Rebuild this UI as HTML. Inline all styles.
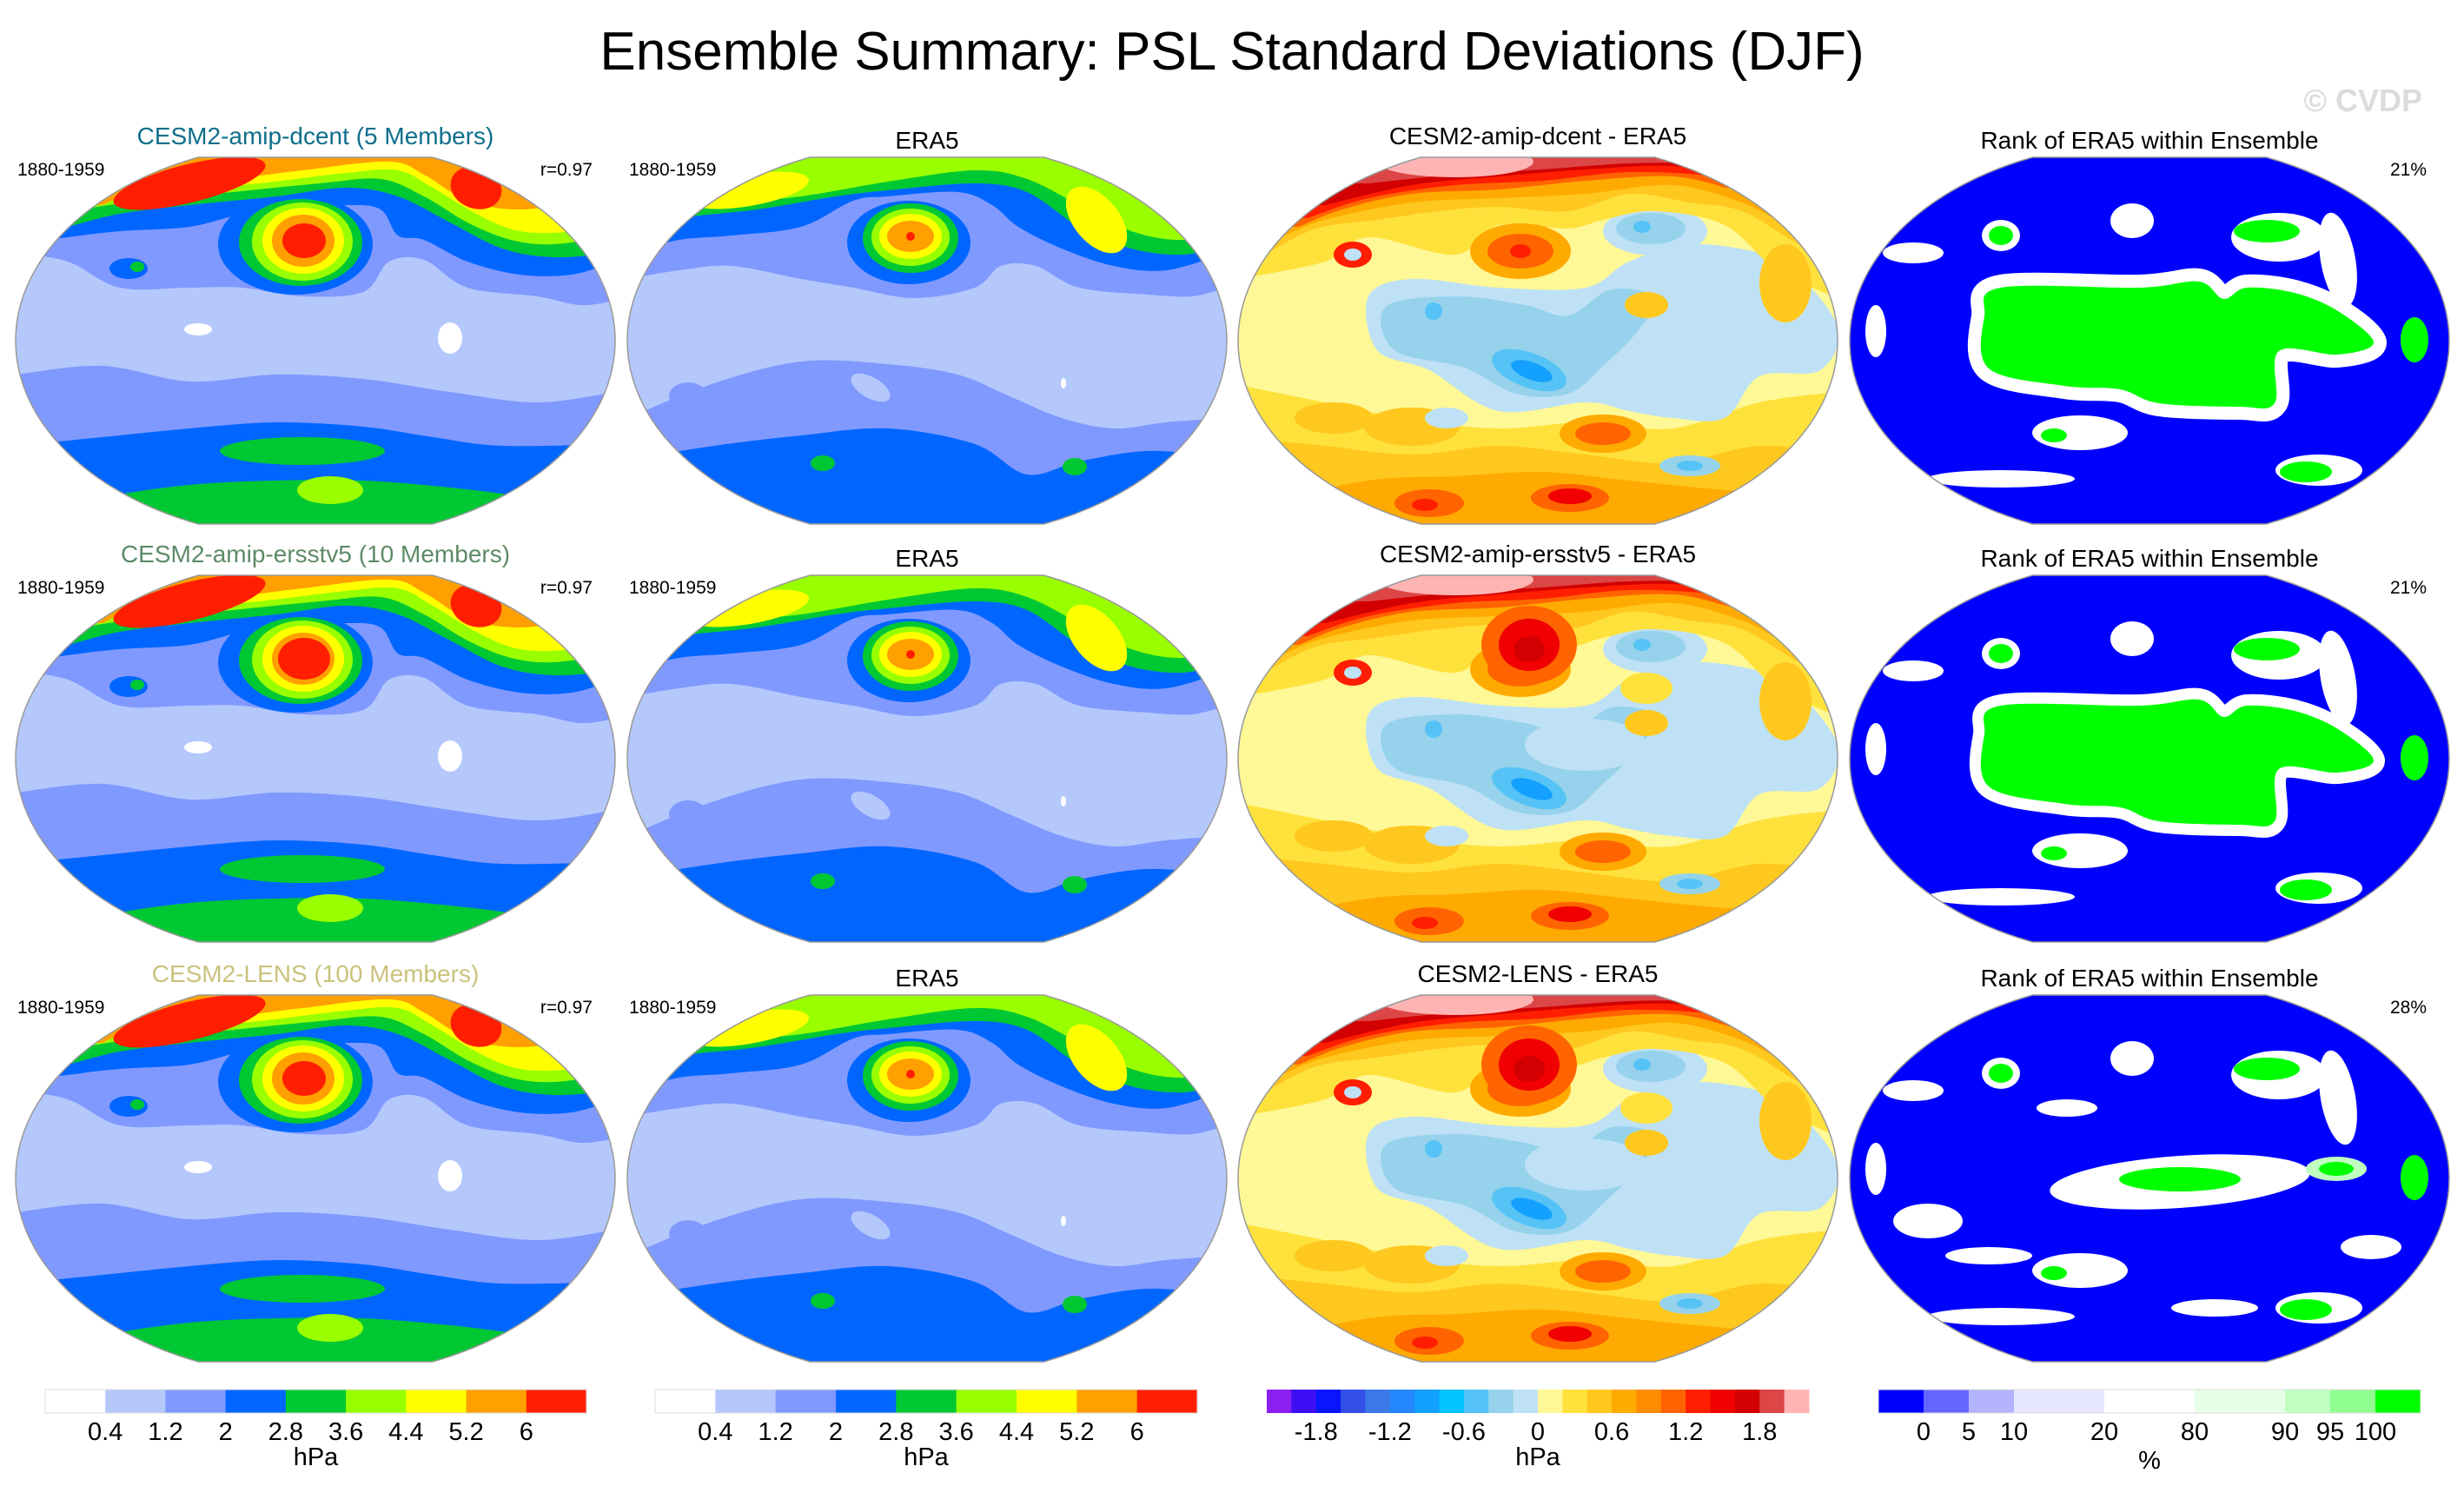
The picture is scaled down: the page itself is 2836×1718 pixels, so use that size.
<!DOCTYPE html>
<html><head><meta charset="utf-8"><title>Ensemble Summary: PSL Standard Deviations (DJF)</title>
<style>
html,body{margin:0;padding:0;background:#fff;}
svg{display:block;font-family:"Liberation Sans",Arial,sans-serif;}
</style></head>
<body>
<svg id="fig" width="2836" height="1718" viewBox="0 0 2836 1718" xmlns="http://www.w3.org/2000/svg">
<rect x="0" y="0" width="2836" height="1718" fill="#fff"/>
<text x="1418" y="80" font-size="62" text-anchor="middle" fill="#000">Ensemble Summary: PSL Standard Deviations (DJF)</text>
<text x="2788" y="128" font-size="36" font-weight="bold" text-anchor="end" fill="#dcdcdc">© CVDP</text>
<g id="maps"></g>
<g id="bars"></g>
</svg>
<script>
const stdColors = ['#ffffff','#b4c8fc','#8099ff','#0066ff','#00c832','#99ff00','#ffff00','#ffa000','#ff1e00'];
const stdLabels = ['0.4','1.2','2','2.8','3.6','4.4','5.2','6'];
const diffColors = ['#8a1ff0','#3c0ff5','#0a14ff','#3250e8','#3c78e6','#2387ff','#14a0ff','#00c3ff','#55c3f5','#96d2eb','#bee1f5','#fff896','#ffe13c','#ffc81e','#ffaa00','#ff8c00','#ff6400','#ff1e00','#f00000','#d20000','#dc4646','#ffb4b4'];
const diffLabels = ['-1.8','-1.2','-0.6','0','0.6','1.2','1.8'];
const diffLabelSlots = [2,5,8,11,14,17,20];
const rankColors = ['#0000ff','#6666ff','#b3b3ff','#e6e6ff','#ffffff','#e6ffe6','#c0ffc0','#90ff90','#00ff00'];
const rankBoxUnits = [1,1,1,2,2,2,1,1,1];
const rankLabels = ['0','5','10','20','80','90','95','100'];
const rowTitles = ['CESM2-amip-dcent (5 Members)','CESM2-amip-ersstv5 (10 Members)','CESM2-LENS (100 Members)'];
const rowTitleColors = ['#0f6e8c','#5e8a66','#cbc27c'];
const diffTitles = ['CESM2-amip-dcent - ERA5','CESM2-amip-ersstv5 - ERA5','CESM2-LENS - ERA5'];
const rankPercents = ['21%','21%','28%'];
const corrValues = ['r=0.97','r=0.97','r=0.97'];

const NS='http://www.w3.org/2000/svg';
const W=690,H=422;
const colX=[18,722,1425,2129], rowY=[181,662,1145];

function mk(tag, parent, attrs, name){
  const el=document.createElementNS(NS,tag);
  for(const k in attrs) el.setAttribute(k,attrs[k]);
  
  
  parent.appendChild(el);
  return el;
}
function curve(p){
  let s='';
  for(let i=0;i<p.length-1;i++){
    const a=p[i-1]||p[i], b=p[i], c=p[i+1], d=p[i+2]||c;
    s+=` C ${b[0]+(c[0]-a[0])/6} ${b[1]+(c[1]-a[1])/6} ${c[0]-(d[0]-b[0])/6} ${c[1]-(d[1]-b[1])/6} ${c[0]} ${c[1]}`;
  }
  return s;
}
function topBand(g,p,color){
  const r=p.slice().reverse();
  const d=`M -20 -20 L ${W+20} -20 L ${W+20} ${r[0][1]} L ${r[0][0]} ${r[0][1]}`+curve(r)+` L -20 ${p[0][1]} Z`;
  return mk('path',g,{d:d,fill:color},'contour-band');
}
function botBand(g,p,color){
  const d=`M -20 ${H+20} L -20 ${p[0][1]} L ${p[0][0]} ${p[0][1]}`+curve(p)+` L ${W+20} ${p[p.length-1][1]} L ${W+20} ${H+20} Z`;
  return mk('path',g,{d:d,fill:color},'contour-band');
}
function poly(g,p,color,extra){
  const c=[p[p.length-1]].concat(p,[p[0],p[1]]);
  let d=`M ${p[0][0]} ${p[0][1]}`;
  for(let i=1;i<c.length-2;i++){
    const a=c[i-1],b=c[i],e=c[i+1],f=c[i+2];
    d+=` C ${b[0]+(e[0]-a[0])/6} ${b[1]+(e[1]-a[1])/6} ${e[0]-(f[0]-b[0])/6} ${e[1]-(f[1]-b[1])/6} ${e[0]} ${e[1]}`;
  }
  const at={d:d+' Z',fill:color};
  if(extra) Object.assign(at,extra);
  return mk('path',g,at,'contour-region');
}
function blob(g,cx,cy,rx,ry,color,rot){
  return mk('ellipse',g,{cx:cx,cy:cy,rx:rx,ry:ry,fill:color,transform:`rotate(${rot||0} ${cx} ${cy})`},'contour-blob');
}
function shapeD(){
  const rx=W/2, ry=1.086*H/2;
  return `M ${0.305*W} 0 L ${0.695*W} 0 A ${rx} ${ry} 0 0 1 ${0.695*W} ${H} L ${0.305*W} ${H} A ${rx} ${ry} 0 0 1 ${0.305*W} 0 Z`;
}
const S=stdColors, D=diffColors;

function drawModel(g,row){
  mk('rect',g,{x:-20,y:-20,width:W+40,height:H+40,fill:S[1]},'map-fill');
  botBand(g,[[0,250],[100,240],[200,258],[300,250],[400,255],[500,270],[600,282],[690,270]],S[2]);
  botBand(g,[[0,332],[100,322],[200,312],[300,305],[400,310],[480,322],[560,332],[690,330]],S[3]);
  botBand(g,[[0,420],[100,392],[200,377],[300,372],[400,372],[500,380],[600,392],[690,402]],S[4]);
  blob(g,330,338,95,16,S[4]);
  blob(g,362,383,38,16,S[5]);
  blob(g,210,198,16,7,S[0]);
  blob(g,500,208,14,18,S[0]);
  topBand(g,[[0,110],[60,120],[120,150],[200,150],[260,150],[330,160],[400,155],[430,120],[470,118],[520,150],[600,160],[650,170],[690,165]],S[2]);
  topBand(g,[[0,100],[60,92],[120,85],[200,80],[260,65],[300,60],[380,55],[420,60],[440,90],[470,95],[520,120],[580,135],[640,135],[690,120]],S[3]);
  blob(g,322,100,89,58,S[3]);
  topBand(g,[[0,95],[60,80],[120,65],[200,55],[300,45],[380,35],[440,45],[500,75],[560,105],[620,115],[690,110]],S[4]);
  blob(g,328,98,71,50,S[4]);
  topBand(g,[[30,82],[80,60],[150,50],[250,40],[350,30],[420,25],[470,45],[520,75],[570,95],[620,100],[690,90]],S[5]);
  blob(g,330,97,58,45,S[5]);
  topBand(g,[[60,70],[100,50],[180,40],[280,30],[380,18],[440,15],[480,35],[530,65],[580,85],[640,85],[690,70]],S[6]);
  blob(g,331,96,47,38,S[6]);
  topBand(g,[[100,55],[150,35],[250,25],[330,15],[430,5],[470,20],[520,50],[580,60],[650,50],[690,40]],S[7]);
  blob(g,331,96,36,30,S[7]);
  blob(g,200,30,90,22,S[8],-14);
  blob(g,530,35,30,24,S[8],20);
  blob(g,332,96,row===1?30:25,row===1?24:20,S[8]);
  blob(g,130,128,22,12,S[3]);
  blob(g,140,126,8,6,S[4]);
}
function drawEra(g){
  mk('rect',g,{x:-20,y:-20,width:W+40,height:H+40,fill:S[1]},'map-fill');
  botBand(g,[[0,300],[100,260],[200,235],[300,238],[380,250],[440,275],[500,300],[560,312],[620,305],[690,300]],S[2]);
  blob(g,280,265,25,12,S[1],30);
  blob(g,70,275,22,16,S[2]);
  botBand(g,[[0,348],[100,332],[200,320],[300,312],[400,330],[460,365],[520,350],[600,338],[690,345]],S[3]);
  blob(g,225,352,14,9,S[4]);
  blob(g,515,356,14,10,S[4]);
  blob(g,502,260,3,6,S[0]);
  topBand(g,[[0,140],[60,130],[120,125],[200,140],[260,150],[330,162],[400,150],[430,125],[470,125],[520,150],[600,158],[650,160],[690,150]],S[2]);
  topBand(g,[[0,110],[60,95],[120,90],[200,80],[260,50],[300,45],[380,40],[420,55],[450,80],[500,105],[560,125],[620,130],[690,110]],S[3]);
  blob(g,324,98,71,48,S[3]);
  topBand(g,[[0,85],[60,70],[150,60],[240,45],[300,38],[400,30],[460,40],[520,80],[580,105],[640,112],[690,100]],S[4]);
  blob(g,326,93,55,40,S[4]);
  topBand(g,[[40,75],[100,55],[200,45],[300,28],[400,15],[460,25],[520,55],[580,85],[640,95],[690,80]],S[5]);
  blob(g,326,92,45,33,S[5]);
  blob(g,140,38,70,18,S[6],-10);
  blob(g,540,72,26,45,S[6],-40);
  blob(g,326,91,36,26,S[6]);
  blob(g,326,91,27,18,S[7]);
  blob(g,326,91,5,5,S[8]);
}
function drawDiff(g,row){
  mk('rect',g,{x:-20,y:-20,width:W+40,height:H+40,fill:D[11]},'map-fill');
  botBand(g,[[0,262],[100,282],[200,302],[300,312],[400,305],[500,312],[600,282],[690,270]],D[12]);
  botBand(g,[[0,322],[100,332],[200,342],[300,332],[400,342],[500,352],[600,332],[690,342]],D[13]);
  botBand(g,[[0,402],[150,372],[250,367],[350,362],[450,372],[550,382],[690,392]],D[14]);
  blob(g,200,310,55,22,D[13]);
  blob(g,420,318,50,22,D[14]);
  blob(g,420,318,32,13,D[16]);
  blob(g,110,300,45,18,D[13]);
  blob(g,220,398,40,16,D[16]);
  blob(g,215,400,15,7,D[17]);
  blob(g,382,392,45,16,D[16]);
  blob(g,382,390,25,9,D[18]);
  blob(g,240,300,25,12,D[10]);
  blob(g,520,355,35,12,D[9]);
  blob(g,520,355,15,6,D[8]);
  poly(g,[[150,160],[200,140],[300,150],[400,150],[450,120],[520,100],[600,110],[640,130],[690,195],[670,245],[600,252],[560,300],[500,300],[450,292],[400,282],[300,292],[220,245],[160,222]],D[10]);
  poly(g,[[170,172],[250,160],[330,170],[380,182],[430,152],[480,162],[460,200],[420,240],[380,272],[320,272],[260,242],[180,222]],D[9]);
  blob(g,480,85,60,28,D[10]);
  blob(g,475,82,40,18,D[9]);
  blob(g,465,80,10,7,D[8]);
  blob(g,335,245,45,20,D[8],20);
  blob(g,338,246,25,10,D[6],20);
  blob(g,225,177,10,10,D[8]);
  if(row>0){ blob(g,400,195,70,30,D[10]); blob(g,470,130,30,18,D[12]); }
  topBand(g,[[0,140],[100,120],[150,92],[250,112],[300,78],[380,82],[420,72],[480,62],[560,78],[620,130],[690,162]],D[12]);
  topBand(g,[[30,112],[90,82],[160,72],[230,62],[300,57],[380,62],[450,42],[520,52],[580,62],[640,97],[690,122]],D[13]);
  topBand(g,[[50,92],[100,72],[200,52],[300,47],[400,42],[500,32],[580,52],[640,82],[690,92]],D[14]);
  topBand(g,[[70,80],[120,60],[200,42],[300,37],[400,27],[500,22],[570,37],[630,52],[690,62]],D[16]);
  topBand(g,[[80,70],[150,47],[250,32],[350,27],[450,17],[550,22],[620,37],[690,42]],D[17]);
  topBand(g,[[100,55],[200,32],[300,22],[400,14],[500,10],[600,22],[690,27]],D[19]);
  topBand(g,[[150,30],[250,20],[350,14],[450,7],[550,7],[690,12]],D[20]);
  blob(g,250,5,90,18,D[21]);
  blob(g,325,108,58,32,D[14]);
  blob(g,325,108,38,20,D[16]);
  blob(g,325,108,12,8,D[17]);
  blob(g,630,145,30,45,D[13]);
  blob(g,470,170,25,15,D[13]);
  if(row>0){
    blob(g,335,80,55,45,D[16]);
    blob(g,335,80,35,30,D[18]);
    blob(g,335,85,18,15,D[19]);
  }
  blob(g,132,112,22,15,D[17]);
  blob(g,132,112,10,7,D[10]);
}
function drawRank(g,row){
  const B='#0000ff',Wt='#ffffff',G='#00ff00';
  mk('rect',g,{x:-20,y:-20,width:W+40,height:H+40,fill:B},'map-fill');
  const mainP=[[174,150],[334,150],[402,143],[430,163],[457,150],[512,156],[562,177],[603,213],[562,227],[494,223],[489,283],[448,287],[356,283],[311,267],[247,263],[160,243],[155,183]];
  if(row<2){
    poly(g,mainP,Wt,{stroke:Wt,'stroke-width':row===0?30:26,'stroke-linejoin':'round'});
    poly(g,mainP,G);
  } else {
    blob(g,380,215,150,30,Wt,-4);
    blob(g,380,212,70,14,G);
    blob(g,560,200,35,14,'#c0ffc0');
    blob(g,560,200,20,8,G);
    blob(g,90,260,40,20,Wt);
    blob(g,600,290,35,14,Wt);
    blob(g,250,130,35,10,Wt);
    blob(g,420,360,50,10,Wt);
    blob(g,160,300,50,10,Wt);
  }
  blob(g,325,73,25,20,Wt);
  blob(g,494,92,55,28,Wt);
  blob(g,480,85,38,13,G);
  blob(g,562,118,20,55,Wt,-10);
  blob(g,265,317,55,20,Wt);
  blob(g,235,320,15,8,G);
  blob(g,540,360,50,18,Wt);
  blob(g,525,362,30,12,G);
  blob(g,174,370,85,10,Wt);
  blob(g,73,110,35,12,Wt);
  blob(g,174,90,22,18,Wt);
  blob(g,174,90,14,11,G);
  blob(g,650,210,16,26,G);
  blob(g,30,200,12,30,Wt);
}

const maps=document.getElementById('maps');
const defs=mk('defs',maps,{},'clip-defs');
const cp=mk('clipPath',defs,{id:'mapclip'},'map-clip');
mk('path',cp,{d:shapeD()},'map-clip-shape');

function label(parent,x,y,txt,size,anchor,color,name){
  const t=mk('text',parent,{x:x,y:y,'font-size':size,'text-anchor':anchor,fill:color},name);
  t.textContent=txt;
  return t;
}

for(let r=0;r<3;r++){
  for(let c=0;c<4;c++){
    const panel=mk('g',maps,{transform:`translate(${colX[c]} ${rowY[r]})`},'map-panel');
    const inner=mk('g',panel,{'clip-path':'url(#mapclip)'},'map-contours');
    if(c===0) drawModel(inner,r);
    else if(c===1) drawEra(inner);
    else if(c===2) drawDiff(inner,r);
    else drawRank(inner,r);
    mk('path',panel,{d:shapeD(),fill:'none',stroke:'#999',"stroke-width":1.5},'map-outline');
    let title, tcol='#000';
    if(c===0){ title=rowTitles[r]; tcol=rowTitleColors[r]; }
    else if(c===1) title='ERA5';
    else if(c===2) title=diffTitles[r];
    else title='Rank of ERA5 within Ensemble';
    const ty=(c===0||c===2)?-15:-10;
    label(panel,W/2,ty,title,28,'middle',tcol,'panel-title');
    if(c<2) label(panel,2,21,'1880-1959',21,'start','#000','period-label');
    if(c===0) label(panel,W-26,21,corrValues[r],21,'end','#000','pattern-correlation');
    if(c===3) label(panel,W-26,21,rankPercents[r],21,'end','#000','rank-percent');
  }
}

const bars=document.getElementById('bars');
const barY=1599, barH=27;
function stdBar(x0,x1){
  const g=mk('g',bars,{},'colorbar-std');
  const w=(x1-x0)/stdColors.length;
  stdColors.forEach((col,i)=>{
    mk('rect',g,{x:x0+i*w,y:barY,width:w+0.5,height:barH,fill:col},'colorbar-box');
  });
  mk('rect',g,{x:x0,y:barY,width:x1-x0,height:barH,fill:'none',stroke:'#ddd','stroke-width':1},'colorbar-frame');
  stdLabels.forEach((t,i)=>label(g,x0+(i+1)*w,1657,t,29,'middle','#000','colorbar-tick-label'));
  label(g,(x0+x1)/2,1686,'hPa',29,'middle','#000','colorbar-unit');
}
stdBar(52,675);
stdBar(754,1378);
(function(){
  const x0=1458,x1=2082;
  const g=mk('g',bars,{},'colorbar-diff');
  const w=(x1-x0)/diffColors.length;
  diffColors.forEach((col,i)=>{
    mk('rect',g,{x:x0+i*w,y:barY,width:w+0.5,height:barH,fill:col},'colorbar-box');
  });
  diffLabels.forEach((t,i)=>label(g,x0+diffLabelSlots[i]*w,1657,t,29,'middle','#000','colorbar-tick-label'));
  label(g,(x0+x1)/2,1686,'hPa',29,'middle','#000','colorbar-unit');
})();
(function(){
  const x0=2162,x1=2786;
  const g=mk('g',bars,{},'colorbar-rank');
  const tot=rankBoxUnits.reduce((a,b)=>a+b,0);
  const u=(x1-x0)/tot;
  let x=x0; const edges=[];
  rankColors.forEach((col,i)=>{
    mk('rect',g,{x:x,y:barY,width:rankBoxUnits[i]*u+0.5,height:barH,fill:col},'colorbar-box');
    x+=rankBoxUnits[i]*u; edges.push(x);
  });
  mk('rect',g,{x:x0,y:barY,width:x1-x0,height:barH,fill:'none',stroke:'#ddd','stroke-width':1},'colorbar-frame');
  rankLabels.forEach((t,i)=>label(g,edges[i],1657,t,29,'middle','#000','colorbar-tick-label'));
  label(g,(x0+x1)/2,1690,'%',29,'middle','#000','colorbar-unit');
})();
</script>
</body></html>
